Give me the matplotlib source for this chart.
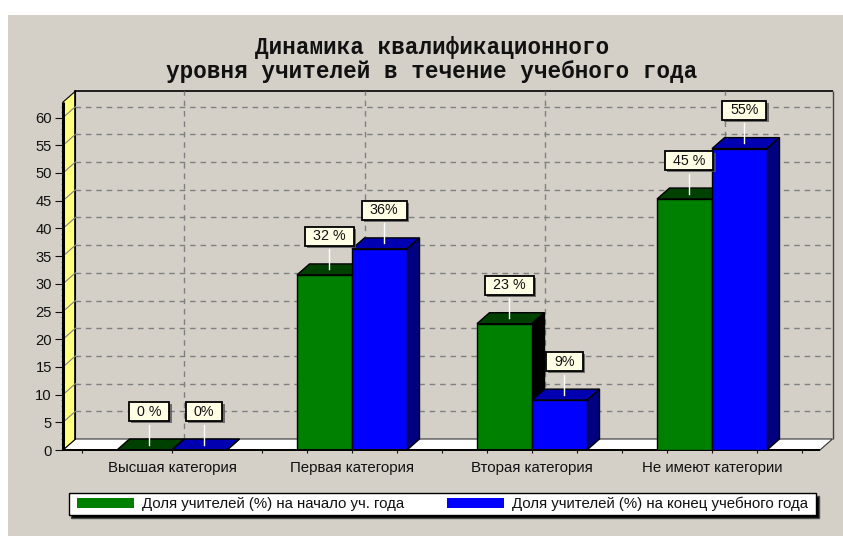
import matplotlib
matplotlib.use("Agg")
import matplotlib.pyplot as plt
from matplotlib.patches import Polygon, Rectangle, Patch
from matplotlib.path import Path
import matplotlib.patheffects as pe

W, H = 843, 536
categories = ["Высшая категория", "Первая категория", "Вторая категория", "Не имеют категории"]
start_values = [0, 31.6, 22.8, 45.3]
end_values = [0, 36.3, 9.0, 54.4]
start_labels = ["0 %", "32 %", "23 %", "45 %"]
end_labels = ["0%", "36%", "9%", "55%"]
series_names = ["Доля учителей (%) на начало уч. года", "Доля учителей (%) на конец учебного года"]
title_lines = "Динамика квалификационного\nуровня учителей в течение учебного года"
y_ticks = list(range(0, 65, 5))

BG = "#d4d0c8"
fig = plt.figure(figsize=(W / 100, H / 100), dpi=100, facecolor="white")
fig.add_artist(Rectangle((8 / W, 0), (W - 8) / W, (H - 15) / H, transform=fig.transFigure,
                         facecolor=BG, edgecolor="none", zorder=-5))


def pad_box(px, py):
    """Rectangular box style with separate horizontal and vertical padding (pixels)."""
    def style(x0, y0, w, h, mutation_size):
        xa, ya, xb, yb = x0 - px, y0 - py, x0 + w + px, y0 + h + py
        return Path([(xa, ya), (xb, ya), (xb, yb), (xa, yb), (xa, ya)], closed=True)
    return style


left, right, bottom_px = 63, 820, 450
ppu_y = 5.54
ppu_x = 180.0
ymax = 62.8
ax = fig.add_axes([left / W, (H - bottom_px) / H, (right - left) / W, ymax * ppu_y / H])
ax.set_facecolor("none")
xmin = (left - 172) / ppu_x
xmax = (right - 172) / ppu_x
ax.set_xlim(xmin, xmax)
ax.set_ylim(0, ymax)
dx, dy = 12.5 / ppu_x, 11 / ppu_y
barw = 55 / ppu_x

for s in ax.spines.values():
    s.set_visible(False)

# back wall, floor, left wall
ax.add_patch(Polygon([(xmin + dx, dy), (xmax + dx, dy), (xmax, 0), (xmin, 0)], closed=True,
                     facecolor="white", edgecolor="#333333", lw=0.8, clip_on=False, zorder=1))
ax.add_patch(Polygon([(xmin, 0), (xmin + dx, dy), (xmin + dx, ymax + dy), (xmin, ymax)], closed=True,
                     facecolor="#ffff80", edgecolor="black", lw=0.8, clip_on=False, zorder=1))
ax.plot([xmin + dx, xmax + dx], [ymax + dy, ymax + dy], color="black", lw=1.2,
        clip_on=False, zorder=1, solid_capstyle="butt")
ax.plot([xmax + dx, xmax + dx], [ymax + dy, dy], color="#444444", lw=1.0,
        clip_on=False, zorder=1, solid_capstyle="butt")
ax.plot([xmin + dx, xmin + dx], [dy, ymax + dy], color="black", lw=1.2, clip_on=False, zorder=1)
ax.plot([xmin, xmin], [0, ymax], color="black", lw=2.2, clip_on=False, zorder=6, solid_capstyle="butt")
ax.plot([xmin, xmax], [0, 0], color="black", lw=1.4, clip_on=False, zorder=6, solid_capstyle="butt")

# grid on back wall and diagonals on the left wall
GRID = "#808080"
for v in y_ticks[1:]:
    ax.plot([xmin + dx, xmax + dx], [v + dy, v + dy], color=GRID, lw=1, ls=(0, (4, 3.5)),
            clip_on=False, zorder=1.5)
    ax.plot([xmin, xmin + dx], [v, v + dy], color=GRID, lw=0.8, clip_on=False, zorder=1.5)
for i in range(len(categories)):
    ax.plot([i + dx, i + dx], [dy, ymax + dy], color=GRID, lw=1, ls=(0, (4, 3.5)),
            clip_on=False, zorder=1.5)


def bar3d(x0, val, front, top, side, z):
    ax.bar(x0, val, width=barw, align="edge", facecolor=front, edgecolor="black", lw=1, zorder=z + 0.2)
    ax.add_patch(Polygon([(x0, val), (x0 + dx, val + dy), (x0 + barw + dx, val + dy), (x0 + barw, val)],
                         closed=True, facecolor=top, edgecolor="black", lw=1, zorder=z, clip_on=False))
    ax.add_patch(Polygon([(x0 + barw, 0), (x0 + barw + dx, dy), (x0 + barw + dx, val + dy), (x0 + barw, val)],
                         closed=True, facecolor=side, edgecolor="black", lw=1, zorder=z, clip_on=False))


def mark(xc, val, text):
    xs = xc + (dx / 2 - 1.5 / ppu_x)
    ys = val + dy / 2
    stem = 20 / ppu_y
    ax.plot([xs, xs], [ys, ys + stem], color="white", lw=1, zorder=7, clip_on=False)
    t = ax.text(xs, ys + stem + 6 / ppu_y, text, ha="center", va="bottom", fontsize=10.3,
                family="Liberation Sans", color="#111111", zorder=8,
                bbox=dict(boxstyle=pad_box(8, 2.5), facecolor="#ffffe6", edgecolor="black", lw=1.3))
    t.get_bbox_patch().set_path_effects([
        pe.withSimplePatchShadow(offset=(1.5, -1.5), shadow_rgbFace="#555555", alpha=0.8)])


for i, (a, b) in enumerate(zip(start_values, end_values)):
    bar3d(i - barw, a, "#008000", "#004000", "#000000", 3 + i)
    bar3d(i, b, "#0000ff", "#0000b0", "#000080", 3.5 + i)
for i, (a, b) in enumerate(zip(start_values, end_values)):
    mark(i - barw / 2, a, start_labels[i])
    mark(i + barw / 2, b, end_labels[i])

# axes ticks
ax.set_yticks(y_ticks)
ax.set_yticks(range(0, 63), minor=True)
ax.tick_params(axis="y", which="major", length=6, width=0.8, pad=2, labelsize=10.6, colors="#111111")
ax.tick_params(axis="y", which="minor", length=1.5, width=0.5, color="#555555")
ax.set_xticks(range(len(categories)))
ax.set_xticklabels(categories)
ax.set_xticks([-0.5, 0.5, 0.75, 1.25, 1.5, 1.75, 2.25, 2.5, 2.75, 3.25, 3.5], minor=True)
ax.tick_params(axis="x", which="both", length=2.5, width=0.8, pad=5.2, labelsize=10.85, colors="#111111")
for lab in ax.get_xticklabels() + ax.get_yticklabels():
    lab.set_family("Liberation Sans")

fig.text(432 / W, 1 - 59.5 / H, title_lines, ha="center", va="center", family="Liberation Mono",
         fontweight="bold", fontsize=16.3, color="#111111", linespacing=1.02)

handles = [Patch(facecolor="#008000", edgecolor="none"), Patch(facecolor="#0000ff", edgecolor="none")]
leg = fig.legend(handles, series_names, ncol=2, loc="center", bbox_to_anchor=(442.5 / W, 1 - 504 / H),
                 fancybox=False, edgecolor="black", facecolor="white", framealpha=1,
                 shadow={"facecolor": "black", "alpha": 1},
                 prop={"family": "Liberation Sans", "size": 10.85},
                 handlelength=3.78, handleheight=0.7, handletextpad=0.53, columnspacing=2.79,
                 borderpad=0.25, borderaxespad=0)
leg.get_frame().set_linewidth(1)
leg.get_frame().set_boxstyle(pad_box(5, 0))
for t in leg.get_texts():
    t.set_color("#111111")

fig.savefig("out.png", dpi=100, facecolor=fig.get_facecolor())
